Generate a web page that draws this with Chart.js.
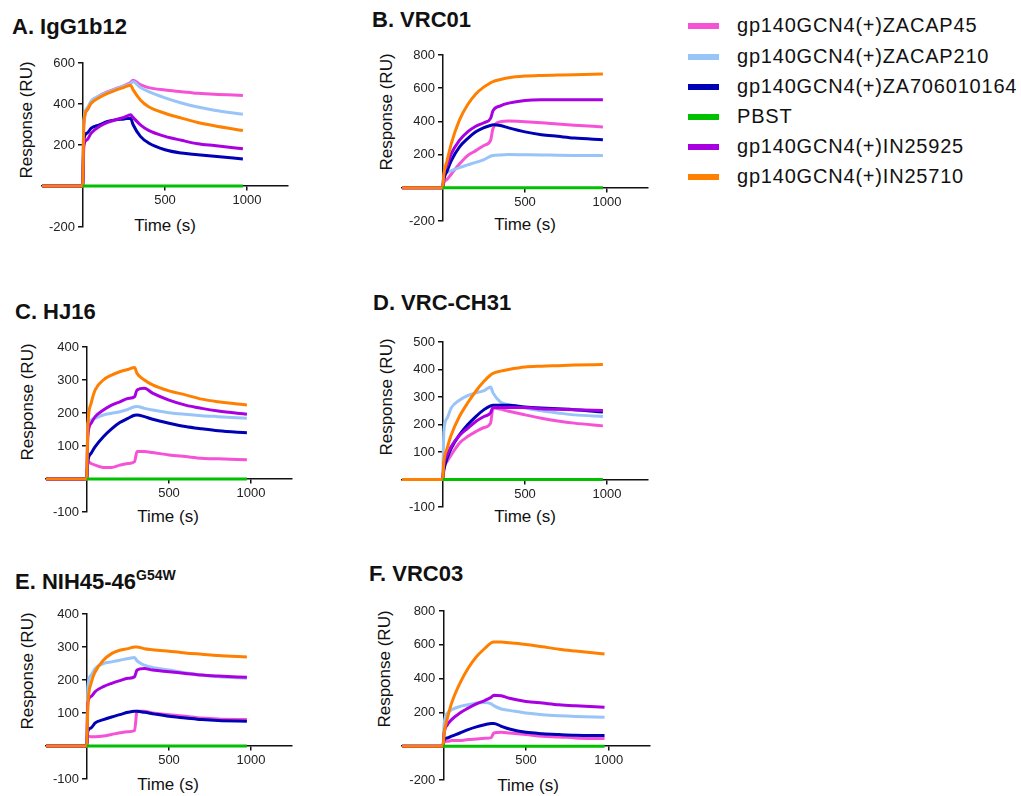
<!DOCTYPE html>
<html>
<head>
<meta charset="utf-8">
<script src="https://cdn.jsdelivr.net/npm/chart.js@4.4.1/dist/chart.umd.min.js"></script>
<style>
body { margin: 0; background: #fff; font-family: "Liberation Sans", Arial, sans-serif; color: #111; }
#page { position: relative; width: 1021px; height: 796px; overflow: hidden; }
.box { position: absolute; }
.ptitle { position: absolute; font-weight: bold; font-size: 22px; line-height: 1; white-space: nowrap; }
.ptitle sup { font-size: 14px; vertical-align: 0; position: relative; top: -9px; }
.ytitle { position: absolute; font-size: 17px; white-space: nowrap; transform: translate(-50%, -50%) rotate(-90deg); }
.xtitle { position: absolute; font-size: 17px; white-space: nowrap; transform: translate(-50%, -50%); }
.swatch { position: absolute; left: 688px; width: 31px; height: 6px; }
.legtext { position: absolute; left: 737px; font-size: 20px; letter-spacing: 0.8px; line-height: 1; white-space: nowrap; }
</style>
</head>
<body>
<div id="page"></div>
<script>
// time points (s) shared by all sensorgrams
var times = [-250, -2, 5, 25, 50, 100, 150, 200, 250, 290, 305, 350, 400, 500, 600, 700, 800, 975];

var seriesNames = ['gp140GCN4(+)ZACAP45', 'gp140GCN4(+)ZACAP210', 'gp140GCN4(+)ZA706010164', 'PBST', 'gp140GCN4(+)IN25925', 'gp140GCN4(+)IN25710'];
var seriesColors = ['#f652d6', '#99c4f8', '#0000b4', '#00c000', '#a800e0', '#ff8000'];

var pbst = [null, 0, 0, 0, 0, 0, 0, 0, 0, 0, 0, 0, 0, 0, 0, 0, 0, 0];

// A. IgG1b12
var A_cap45   = [0, 0, 300, 370, 410, 440, 460, 475, 490, 505, 516, 495, 480, 468, 460, 452, 447, 442];
var A_cap210  = [0, 0, 320, 380, 415, 440, 458, 472, 488, 500, 508, 480, 460, 430, 405, 385, 370, 350];
var A_za      = [0, 0, 226, 258, 282, 298, 315, 323, 327, 331, 300, 242, 210, 177, 161, 153, 145, 132];
var A_in25925 = [0, 0, 194, 226, 258, 290, 310, 323, 335, 347, 335, 298, 271, 242, 223, 206, 197, 182];
var A_in25710 = [0, 0, 306, 371, 403, 432, 452, 468, 481, 492, 470, 420, 387, 355, 331, 310, 294, 271];

// B. VRC01
var B_cap45   = [0, 0, 31, 51, 82, 143, 194, 224, 255, 286, 357, 398, 402, 398, 392, 384, 377, 367];
var B_cap210  = [0, 0, 61, 92, 102, 122, 138, 153, 170, 190, 194, 198, 200, 199, 198, 196, 195, 194];
var B_za      = [0, 0, 51, 102, 163, 245, 296, 337, 363, 375, 380, 375, 361, 337, 320, 310, 300, 290];
var B_in25925 = [0, 0, 82, 133, 204, 286, 337, 371, 392, 418, 465, 494, 510, 526, 530, 530, 530, 530];
var B_in25710 = [0, 0, 82, 163, 265, 408, 500, 565, 608, 632, 640, 652, 663, 673, 677, 679, 681, 685];

// C. HJ16
var C_cap45   = [0, 0, 53, 47, 42, 35, 35, 42, 47, 53, 83, 83, 80, 73, 68, 63, 61, 58];
var C_cap210  = [0, 0, 169, 179, 184, 194, 199, 204, 211, 219, 220, 214, 209, 201, 196, 192, 189, 184];
var C_za      = [0, 0, 53, 78, 98, 128, 152, 171, 184, 193, 194, 189, 181, 169, 159, 152, 146, 140];
var C_in25925 = [0, 0, 128, 169, 189, 209, 224, 234, 244, 249, 270, 275, 260, 239, 224, 214, 206, 196];
var C_in25710 = [0, 0, 158, 229, 270, 300, 315, 325, 332, 338, 320, 300, 285, 267, 255, 242, 234, 224];

// D. VRC-CH31
var D_cap45   = [0, 0, 40, 65, 89, 132, 156, 174, 189, 205, 260, 256, 248, 235, 223, 213, 205, 195];
var D_cap210  = [0, 0, 174, 223, 260, 288, 305, 315, 323, 336, 315, 282, 272, 260, 250, 242, 235, 229];
var D_za      = [0, 0, 34, 77, 113, 162, 199, 229, 254, 268, 270, 270, 270, 264, 260, 257, 254, 245];
var D_in25925 = [0, 0, 52, 89, 120, 160, 186, 211, 229, 242, 262, 262, 262, 262, 257, 255, 254, 251];
var D_in25710 = [0, 0, 65, 113, 162, 229, 278, 321, 357, 380, 386, 394, 400, 409, 412, 414, 416, 418];

// E. NIH45-46 G54W
var E_cap45   = [0, 0, 30, 28, 28, 30, 35, 40, 43, 47, 105, 105, 100, 95, 90, 85, 82, 80];
var E_cap210  = [0, 0, 180, 215, 235, 250, 255, 260, 265, 268, 258, 245, 238, 230, 222, 215, 210, 205];
var E_za      = [0, 0, 45, 55, 70, 80, 88, 95, 102, 105, 105, 102, 98, 90, 85, 80, 77, 75];
var E_in25925 = [0, 0, 130, 150, 165, 180, 190, 198, 205, 210, 230, 235, 230, 225, 220, 215, 212, 208];
var E_in25710 = [0, 0, 120, 190, 225, 260, 280, 290, 295, 300, 300, 295, 292, 287, 282, 278, 274, 270];

// F. VRC03
var F_cap45   = [0, 0, 29, 29, 33, 33, 39, 43, 47, 51, 78, 82, 78, 69, 59, 55, 49, 45];
var F_cap210  = [0, 0, 137, 196, 216, 235, 245, 255, 259, 251, 240, 220, 212, 196, 186, 180, 176, 172];
var F_za      = [0, 0, 39, 49, 59, 78, 98, 114, 127, 135, 135, 118, 102, 82, 74, 69, 65, 63];
var F_in25925 = [0, 0, 78, 127, 157, 196, 225, 251, 270, 290, 302, 298, 284, 265, 255, 245, 239, 231];
var F_in25710 = [0, 0, 78, 167, 255, 372, 461, 529, 578, 612, 617, 617, 612, 602, 588, 574, 563, 545];

// tick labels
var xTicks = [500, 1000];
var yTicksA = [-200, 200, 400, 600];
var yTicksB = [-200, 200, 400, 600, 800];
var yTicksC = [-100, 100, 200, 300, 400];
var yTicksD = [-100, 100, 200, 300, 400, 500];
var yTicksE = [-100, 100, 200, 300, 400];
var yTicksF = [-200, 200, 400, 600, 800];

var panels = [
    { title: 'A. IgG1b12', series: [A_cap45, A_cap210, A_za, pbst, A_in25925, A_in25710], yTicks: yTicksA, ymin: -200, ymax: 600,
      area: [42, 63, 288, 227], titlePos: [12, 16], yTitle: [27, 120], xTitle: [165, 226] },
    { title: 'B. VRC01', series: [B_cap45, B_cap210, B_za, pbst, B_in25925, B_in25710], yTicks: yTicksB, ymin: -200, ymax: 800,
      area: [402, 55, 648, 221], titlePos: [372, 9], yTitle: [387, 112], xTitle: [525, 225] },
    { title: 'C. HJ16', series: [C_cap45, C_cap210, C_za, pbst, C_in25925, C_in25710], yTicks: yTicksC, ymin: -100, ymax: 400,
      area: [46, 347, 292, 512], titlePos: [15, 301], yTitle: [28, 402], xTitle: [168, 517] },
    { title: 'D. VRC-CH31', series: [D_cap45, D_cap210, D_za, pbst, D_in25925, D_in25710], yTicks: yTicksD, ymin: -100, ymax: 500,
      area: [402, 342, 648, 507], titlePos: [373, 292], yTitle: [387, 397], xTitle: [525, 517] },
    { title: 'E. NIH45-46<sup>G54W</sup>', series: [E_cap45, E_cap210, E_za, pbst, E_in25925, E_in25710], yTicks: yTicksE, ymin: -100, ymax: 400,
      area: [46, 614, 292, 779], titlePos: [15, 571], yTitle: [28, 671], xTitle: [168, 785] },
    { title: 'F. VRC03', series: [F_cap45, F_cap210, F_za, pbst, F_in25925, F_in25710], yTicks: yTicksF, ymin: -200, ymax: 800,
      area: [402, 611, 650, 780], titlePos: [369, 563], yTitle: [385, 669], xTitle: [528, 786] }
];

// drawing order: green on top, then orange, purple, dark blue, light blue, pink
var drawOrder = [5, 4, 3, 0, 2, 1];
var pad = { left: 4, right: 4, top: 10, bottom: 4 };
var page = document.getElementById('page');
var tickFont = { family: '"Liberation Sans", Arial, sans-serif', size: 13 };

// tick labels beside axes that cross at (0,0)
var crossLabels = {
    id: 'crossLabels',
    afterDraw: function (chart) {
        var ctx = chart.ctx, xs = chart.scales.x, ys = chart.scales.y;
        var x0 = xs.getPixelForValue(0), y0 = ys.getPixelForValue(0);
        ctx.save();
        ctx.fillStyle = '#222';
        ctx.font = '13px "Liberation Sans", Arial, sans-serif';
        ctx.textAlign = 'right';
        ctx.textBaseline = 'middle';
        ys.ticks.forEach(function (t) { ctx.fillText(String(t.value), x0 - 8, ys.getPixelForValue(t.value)); });
        ctx.textAlign = 'center';
        ctx.textBaseline = 'top';
        xs.ticks.forEach(function (t) { ctx.fillText(String(t.value), xs.getPixelForValue(t.value), y0 + 8); });
        ctx.restore();
    }
};

panels.forEach(function (p) {
    var t = document.createElement('div');
    t.className = 'ptitle';
    t.style.left = p.titlePos[0] + 'px';
    t.style.top = p.titlePos[1] + 'px';
    t.innerHTML = p.title;
    page.appendChild(t);

    var yt = document.createElement('div');
    yt.className = 'ytitle';
    yt.style.left = p.yTitle[0] + 'px';
    yt.style.top = p.yTitle[1] + 'px';
    yt.textContent = 'Response (RU)';
    page.appendChild(yt);

    var xt = document.createElement('div');
    xt.className = 'xtitle';
    xt.style.left = p.xTitle[0] + 'px';
    xt.style.top = p.xTitle[1] + 'px';
    xt.textContent = 'Time (s)';
    page.appendChild(xt);

    var box = document.createElement('div');
    box.className = 'box';
    box.style.left = (p.area[0] - pad.left) + 'px';
    box.style.top = (p.area[1] - pad.top) + 'px';
    box.style.width = (p.area[2] - p.area[0] + pad.left + pad.right) + 'px';
    box.style.height = (p.area[3] - p.area[1] + pad.top + pad.bottom) + 'px';
    var cv = document.createElement('canvas');
    box.appendChild(cv);
    page.appendChild(box);

    var datasets = p.series.map(function (vals, i) {
        return {
            label: seriesNames[i],
            data: vals.map(function (v, k) { return { x: times[k], y: v }; }),
            borderColor: seriesColors[i],
            backgroundColor: seriesColors[i],
            borderWidth: 3,
            pointRadius: 0,
            fill: false,
            cubicInterpolationMode: 'monotone',
            order: drawOrder[i]
        };
    });

    new Chart(cv.getContext('2d'), {
        type: 'line',
        data: { datasets: datasets },
        plugins: [crossLabels],
        options: {
            responsive: true,
            maintainAspectRatio: false,
            animation: false,
            layout: { padding: pad },
            plugins: { legend: { display: false }, tooltip: { enabled: false } },
            scales: {
                x: {
                    type: 'linear', min: -250, max: 1250,
                    position: { y: 0 },
                    afterBuildTicks: function (s) { s.ticks = xTicks.map(function (v) { return { value: v }; }); },
                    grid: { drawOnChartArea: false, drawTicks: true, tickLength: 4, color: '#111', lineWidth: 1.5 },
                    border: { display: true, color: '#111', width: 1.5 },
                    ticks: { display: false, font: tickFont }
                },
                y: {
                    type: 'linear', min: p.ymin, max: p.ymax,
                    position: { x: 0 },
                    afterBuildTicks: function (s) { s.ticks = p.yTicks.map(function (v) { return { value: v }; }); },
                    grid: { drawOnChartArea: false, drawTicks: true, tickLength: 4, color: '#111', lineWidth: 1.5 },
                    border: { display: true, color: '#111', width: 1.5 },
                    ticks: { display: false, font: tickFont }
                }
            }
        }
    });
});

// legend
var rowY = [26, 57, 87, 117, 147, 177];
seriesNames.forEach(function (name, i) {
    var sw = document.createElement('div');
    sw.className = 'swatch';
    sw.style.top = (rowY[i] - 3) + 'px';
    sw.style.background = seriesColors[i];
    page.appendChild(sw);
    var tx = document.createElement('div');
    tx.className = 'legtext';
    tx.style.top = (rowY[i] - 11) + 'px';
    tx.textContent = name;
    page.appendChild(tx);
});
</script>
</body>
</html>
